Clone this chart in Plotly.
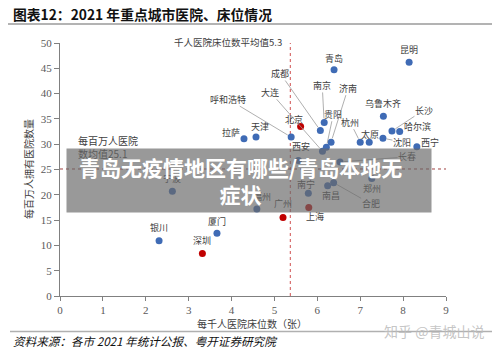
import plotly.graph_objects as go

# ---- data ----
cities = ["青岛", "昆明", "北京", "呼和浩特", "成都", "南京", "济南", "杭州", "太原", "沈阳",
          "长沙", "哈尔滨", "乌鲁木齐", "西宁", "拉萨", "天津", "西安", "大连", "贵阳", "长春",
          "宁波", "福州", "南宁", "南昌", "合肥", "郑州", "上海", "广州", "厦门", "银川", "深圳"]
beds_per_1000 = [6.39, 8.14, 5.61, 5.39, 6.07, 6.16, 6.32, 7.00, 7.21, 7.53,
                 7.74, 7.92, 7.54, 8.32, 4.29, 4.57, 5.56, 6.12, 6.21, 6.53,
                 2.62, 4.59, 5.79, 6.24, 6.38, 7.27, 5.80, 5.20, 3.66, 2.31, 3.32]
hosp_per_million = [44.7, 46.2, 33.5, 31.4, 32.7, 34.3, 30.4, 30.4, 30.4, 31.2,
                    32.6, 32.5, 35.5, 29.5, 31.1, 31.4, 26.8, 28.6, 29.4, 26.5,
                    20.7, 17.2, 20.3, 21.8, 22.4, 23.2, 17.5, 15.5, 12.4, 10.9, 8.4]
first_tier = ["北京", "上海", "广州", "深圳"]
avg_beds = 5.37
avg_hosp = 25.1
x_ticks = list(range(0, 10))
y_ticks = list(range(0, 55, 5))

# label placement (pixel offsets from the dot) and whether a leader line is drawn
label_offsets = {
    "青岛": (0, -11, False), "昆明": (0, -13, False), "北京": (-7, -7, False),
    "呼和浩特": (-63, -38, True), "成都": (-40, -57, True), "南京": (-2, -37, True),
    "济南": (17, -54, True), "杭州": (-10, -20, True), "太原": (1, -8, False),
    "沈阳": (19, 4, True), "长沙": (32, -21, True), "哈尔滨": (18, -5, False),
    "乌鲁木齐": (0, -13, False), "西宁": (13, -4, False), "拉萨": (-13, -6, False),
    "天津": (4, -11, False), "西安": (3, -14, False), "大连": (-52, -59, True),
    "贵阳": (7, -33, True), "长春": (67, -5, True), "宁波": (0, -13, False),
    "福州": (5, -12, False), "南宁": (-2, -9, False), "南昌": (3, 10, False),
    "合肥": (37, 21, True), "郑州": (0, 10, False), "上海": (6, 9, False),
    "广州": (0, -14, False), "厦门": (0, -12, False), "银川": (0, -13, False),
    "深圳": (0, -13, False),
}

BLUE = "#3F6BB5"
RED = "#C00000"
# the page body adds an 8px margin, so the figure is 8px smaller and shifted
W, H = 492, 353
L, R, T, B = 52, 54, 35, 65
PW, PH = W - L - R, H - T - B   # 386 x 253


def paper(px_, py_):
    """window pixel -> paper coordinates"""
    return (px_ - 60) / PW, (296 - py_) / PH


fig = go.Figure()

colors = [RED if c in first_tier else BLUE for c in cities]
fig.add_trace(go.Scatter(x=beds_per_1000, y=hosp_per_million, mode="markers",
                         marker=dict(size=7, color=colors), hoverinfo="text",
                         text=cities, showlegend=False))

# average lines
fig.add_shape(type="line", x0=avg_beds, x1=avg_beds, y0=0, y1=50, xref="x", yref="y",
              line=dict(color="#D05050", width=1, dash="dot"), layer="below")
fig.add_shape(type="line", x0=0, x1=9, y0=avg_hosp, y1=avg_hosp, xref="x", yref="y",
              line=dict(color="#A04040", width=1, dash="dot"), layer="below")

ann = []
lab_font = dict(family="Noto Sans CJK SC", size=9, color="#404040")
for c, xv, yv in zip(cities, beds_per_1000, hosp_per_million):
    dx, dy, lead = label_offsets[c]
    ann.append(dict(x=xv, y=yv, xref="x", yref="y", text=c, showarrow=True,
                    ax=dx, ay=dy, arrowhead=0, arrowwidth=0.8,
                    arrowcolor="#9a9a9a" if lead else "rgba(0,0,0,0)",
                    standoff=4 if lead else 0, font=lab_font, borderpad=0))


def note(px_, py_, text, font, xanchor="center", **kw):
    x, y = paper(px_, py_)
    d = dict(x=x, y=y, xref="paper", yref="paper", text=text, showarrow=False,
             font=font, xanchor=xanchor, yanchor="middle")
    d.update(kw)
    ann.append(d)


note(228, 42, "千人医院床位数平均值5.3",
     dict(family="Noto Sans CJK SC", size=9.5, color="#404040"))
note(76, 147, "每百万人医院<br>数均值25.1",
     dict(family="Noto Sans CJK SC", size=10, color="#404040"), xanchor="left", align="left")
note(28, 169, "每百万人拥有医院数量",
     dict(family="Noto Sans CJK SC", size=10, color="#404040"), textangle=-90)
note(252, 323, "每千人医院床位数（张）",
     dict(family="Noto Sans CJK SC", size=10, color="#404040"))
note(11, 14.5, "<b>图表12：2021 年重点城市医院、床位情况</b>",
     dict(family="Noto Sans CJK SC", size=13.8, color="#111111"), xanchor="left")
note(11, 341, "资料来源：各市 2021 年统计公报、粤开证券研究院",
     dict(family="Noto Sans CJK SC", size=11.6, color="#111111", style="italic"), xanchor="left")
note(434, 331, "知乎 @青城山说",
     dict(family="Noto Sans CJK SC", size=14, color="rgba(190,190,190,0.9)"))

# banner box (above labels)
note(249, 180.5, " ", dict(size=10), width=364, height=63,
     bgcolor="rgba(105,105,105,0.68)", borderpad=0)
note(240, 180, "<b>青岛无疫情地区有哪些/青岛本地无<br>症状</b>",
     dict(family="Noto Sans CJK SC", size=21, color="white"))

# decorative rules
x0, y0 = paper(2, 24)
x1, _ = paper(498, 24)
fig.add_shape(type="line", xref="paper", yref="paper", x0=x0, x1=x1, y0=y0, y1=y0,
              line=dict(color="#9a9a9a", width=1.5))
x0, y0 = paper(10, 331.5)
x1, _ = paper(497, 331.5)
fig.add_shape(type="line", xref="paper", yref="paper", x0=x0, x1=x1, y0=y0, y1=y0,
              line=dict(color="#b0b0b0", width=1.5))

tick_font = dict(family="Liberation Serif", size=11, color="#595959")
fig.update_layout(
    width=W, height=H, margin=dict(l=L, r=R, t=T, b=B),
    paper_bgcolor="white", plot_bgcolor="white",
    annotations=ann,
    xaxis=dict(range=[0, 9], tickvals=x_ticks, showgrid=False, zeroline=False,
               showline=True, linecolor="#808080", linewidth=1, ticks="outside",
               ticklen=4, tickcolor="#808080", tickfont=tick_font, fixedrange=True),
    yaxis=dict(range=[0, 50], tickvals=y_ticks, showgrid=False, zeroline=False,
               showline=True, linecolor="#808080", linewidth=1, ticks="outside",
               ticklen=5, tickcolor="#808080", tickfont=tick_font, fixedrange=True),
)

fig.write_html("out.html")
